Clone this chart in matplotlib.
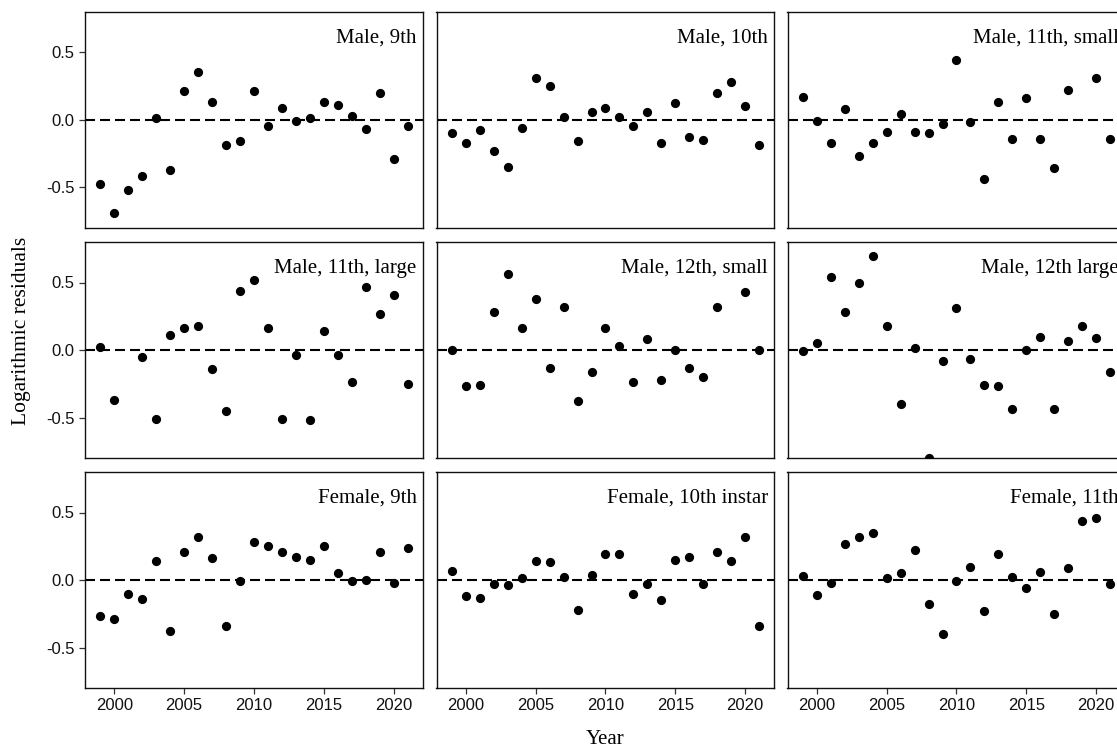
import numpy as np
import matplotlib
matplotlib.use("Agg")
import matplotlib.pyplot as plt

years = list(range(1999, 2022))
nan = np.nan

# Residuals per sex / instar (NaN = no estimate shown for that year)
male_9th = [-0.48, -0.69, -0.52, -0.42, 0.01, -0.37, 0.21, 0.35, 0.13, -0.19,
            -0.16, 0.21, -0.05, 0.09, -0.01, 0.01, 0.13, 0.11, 0.03, -0.07,
            0.20, -0.29, -0.05]
male_10th = [-0.10, -0.17, -0.08, -0.23, -0.35, -0.06, 0.31, 0.25, 0.02, -0.16,
             0.06, 0.09, 0.02, -0.05, 0.06, -0.17, 0.12, -0.13, -0.15, 0.20,
             0.28, 0.10, -0.19]
male_11th_small = [0.17, -0.01, -0.17, 0.08, -0.27, -0.17, -0.09, 0.04, -0.09, -0.10,
                   -0.03, 0.44, -0.02, -0.44, 0.13, -0.14, 0.16, -0.14, -0.36, 0.22,
                   nan, 0.31, -0.14]
male_11th_large = [0.02, -0.37, nan, -0.05, -0.51, 0.11, 0.16, 0.18, -0.14, -0.45,
                   0.44, 0.52, 0.16, -0.51, -0.04, -0.52, 0.14, -0.04, -0.24, 0.47,
                   0.27, 0.41, -0.25]
male_12th_small = [0.00, -0.27, -0.26, 0.285, 0.56, 0.16, 0.38, -0.13, 0.32, -0.38,
                   -0.165, 0.16, 0.03, -0.24, 0.08, -0.22, 0.00, -0.13, -0.20, 0.32,
                   nan, 0.43, 0.00]
male_12th_large = [-0.01, 0.055, 0.54, 0.28, 0.50, 0.70, 0.18, -0.40, 0.015, -0.80,
                   -0.08, 0.31, -0.07, -0.26, -0.27, -0.44, 0.00, 0.10, -0.44, 0.07,
                   0.18, 0.09, -0.16]
female_9th = [-0.27, -0.29, -0.10, -0.14, 0.14, -0.375, 0.21, 0.32, 0.16, -0.34,
              -0.01, 0.28, 0.25, 0.21, 0.17, 0.15, 0.25, 0.05, -0.01, 0.00,
              0.21, -0.02, 0.24]
female_10th = [0.07, -0.115, -0.13, -0.03, -0.035, 0.017, 0.14, 0.13, 0.02, -0.22,
               0.04, 0.19, 0.19, -0.10, -0.03, -0.15, 0.15, 0.17, -0.03, 0.21,
               0.14, 0.32, -0.34]
female_11th = [0.027, -0.11, -0.025, 0.27, 0.32, 0.35, 0.017, 0.05, 0.225, -0.18,
               -0.40, -0.007, 0.095, -0.23, 0.19, 0.02, -0.06, 0.06, -0.25, 0.09,
               0.44, 0.46, -0.027]

panel_titles = ["Male, 9th", "Male, 10th", "Male, 11th, small",
                "Male, 11th, large", "Male, 12th, small", "Male, 12th large",
                "Female, 9th", "Female, 10th instar", "Female, 11th"]
panel_values = [male_9th, male_10th, male_11th_small,
                male_11th_large, male_12th_small, male_12th_large,
                female_9th, female_10th, female_11th]

x_ticks = [2000, 2005, 2010, 2015, 2020]
y_ticks = [-0.5, 0.0, 0.5]
y_ticklabels = ["-0.5", "0.0", "0.5"]

W, H = 1117, 749
fig = plt.figure(figsize=(W / 100, H / 100), dpi=100)

col_left = [85, 436.5, 787.5]
row_top = [11.7, 242, 472]
pw, ph = 338, 216

serif = "Liberation Serif"
sans = "Liberation Sans"

for i, (title, vals) in enumerate(zip(panel_titles, panel_values)):
    r, c = divmod(i, 3)
    ax = fig.add_axes([col_left[c] / W, 1 - (row_top[r] + ph) / H, pw / W, ph / H])
    ax.axhline(0, color="black", lw=1.5, ls=(0, (4.8, 2.4)), zorder=1)
    ax.scatter(years, vals, s=44, color="black", linewidths=0, zorder=3)
    ax.set_xlim(1997.9, 2022.1)
    ax.set_ylim(-0.8, 0.8)
    ax.set_xticks(x_ticks)
    ax.set_yticks(y_ticks)
    for sp in ax.spines.values():
        sp.set_linewidth(1.0)
        sp.set_color("#111111")
    ax.tick_params(length=4.5, width=0.9, color="#333333", pad=3,
                   labelsize=12, labelcolor="#111111")
    if c == 0:
        ax.set_yticklabels(y_ticklabels, fontfamily=sans)
    else:
        ax.tick_params(axis="y", left=False, labelleft=False)
    if r == 2:
        ax.set_xticklabels([str(t) for t in x_ticks], fontfamily=sans)
    else:
        ax.tick_params(axis="x", bottom=False, labelbottom=False)
    ax.text(1 - 6.5 / pw, 1 - 31.0 / ph, title, transform=ax.transAxes,
            ha="right", va="baseline", fontfamily=serif, fontsize=15)

fig.text(605 / W, 1 - 739 / H, "Year", ha="center", va="center",
         fontfamily=serif, fontsize=15)
fig.text(22 / W, 1 - 331 / H, "Logarithmic residuals", ha="center", va="center",
         rotation=90, fontfamily=serif, fontsize=15.5)

fig.savefig("out.png", dpi=100)
